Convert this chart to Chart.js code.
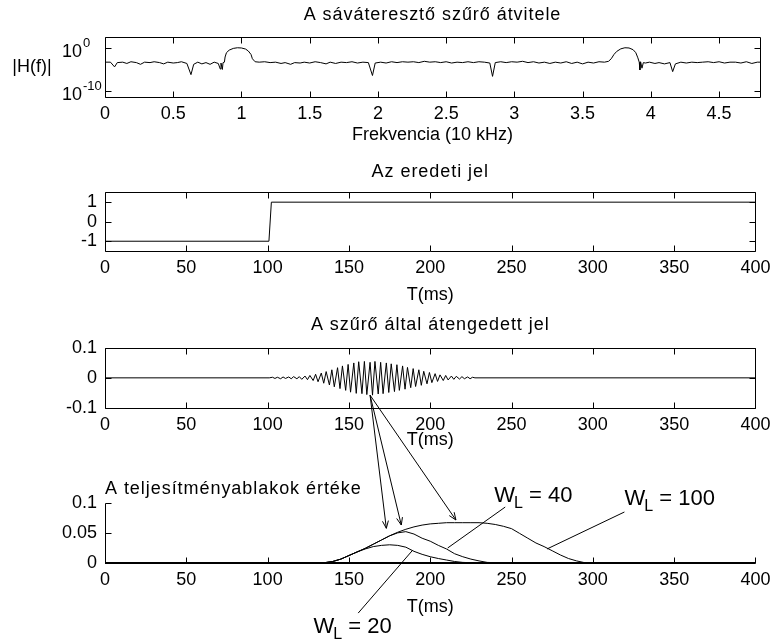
<!DOCTYPE html>
<html>
<head>
<meta charset="utf-8">
<script src="https://cdn.jsdelivr.net/npm/chart.js@4/dist/chart.umd.min.js"></script>
<style>
  html, body { margin: 0; padding: 0; background: #fff; }
  #wrap { position: relative; width: 777px; height: 641px; overflow: hidden; background: #fff; }
  #wrap canvas { position: absolute; left: 0; }
</style>
</head>
<body>
<div id="wrap">
  <canvas id="c1" width="777" height="150" style="top:0px"></canvas>
  <canvas id="c2" width="777" height="160" style="top:150px"></canvas>
  <canvas id="c3" width="777" height="150" style="top:305px"></canvas>
  <canvas id="c4" width="777" height="261" style="top:380px"></canvas>
</div>
<script>
  // --- panel 1: filter response, frequency in 10 kHz, log10 |H(f)|
  var freq = [0, 0.04, 0.07, 0.09, 0.13, 0.16, 0.19, 0.23, 0.26, 0.29, 0.33, 0.36, 0.40, 0.43, 0.46, 0.50,
    0.53, 0.56, 0.60, 0.63, 0.65, 0.68, 0.71, 0.74, 0.77, 0.80, 0.83, 0.845, 0.85, 0.86, 0.865, 0.875,
    0.88, 0.89, 0.91, 0.94, 0.97, 1.00, 1.03, 1.05, 1.07, 1.08, 1.10, 1.13, 1.17, 1.21, 1.25, 1.29,
    1.32, 1.36, 1.39, 1.43, 1.46, 1.50, 1.54, 1.58, 1.62, 1.65, 1.69, 1.73, 1.77, 1.81, 1.85, 1.89,
    1.93, 1.96, 1.98, 2.02, 2.06, 2.10, 2.14, 2.18, 2.22, 2.26, 2.30, 2.34, 2.38, 2.42, 2.46, 2.50,
    2.54, 2.58, 2.62, 2.66, 2.70, 2.74, 2.78, 2.82, 2.84, 2.86, 2.90, 2.94, 2.98, 3.02, 3.06, 3.10,
    3.14, 3.18, 3.22, 3.26, 3.30, 3.34, 3.38, 3.42, 3.46, 3.50, 3.54, 3.58, 3.62, 3.66, 3.69, 3.71,
    3.73, 3.75, 3.78, 3.81, 3.84, 3.87, 3.89, 3.905, 3.915, 3.92, 3.925, 3.935, 3.945, 3.96, 3.99, 4.03,
    4.06, 4.10, 4.14, 4.16, 4.18, 4.22, 4.26, 4.30, 4.34, 4.38, 4.42, 4.46, 4.50, 4.54, 4.58, 4.62,
    4.66, 4.70, 4.74, 4.78, 4.80];
  var hLog = [-3.4, -3.4, -4.5, -3.5, -3.4, -3.7, -3.3, -3.5, -3.9, -3.4, -3.5, -3.3, -3.5, -3.8, -3.4, -3.6,
    -3.5, -3.3, -3.7, -6.3, -3.9, -3.4, -3.8, -3.5, -3.9, -3.4, -3.7, -5.0, -3.6, -5.1, -3.5, -3.4,
    -2.2, -1.2, -0.6, -0.2, -0.05, -0.1, -0.35, -0.8, -1.6, -2.6, -3.3, -3.4, -3.3, -3.5, -3.4, -3.7,
    -3.5, -3.9, -3.5, -3.6, -3.4, -3.6, -3.3, -3.5, -3.8, -3.4, -3.7, -3.4, -3.5, -3.3, -3.6, -3.4,
    -3.5, -6.5, -3.6, -3.4, -3.6, -3.3, -3.5, -3.3, -3.4, -3.3, -3.5, -3.2, -3.4, -3.3, -3.5, -3.3,
    -3.6, -3.4, -3.5, -3.3, -3.5, -3.3, -3.4, -3.6, -6.7, -3.5, -3.3, -3.5, -3.3, -3.4, -3.2, -3.5,
    -3.3, -3.6, -3.4, -3.7, -3.4, -3.6, -3.3, -3.7, -3.4, -3.8, -3.4, -3.6, -3.3, -3.4, -3.2, -2.6,
    -1.6, -0.9, -0.3, -0.05, -0.1, -0.5, -1.2, -2.4, -3.4, -5.2, -3.3, -4.8, -3.5, -3.6, -3.4, -3.7,
    -3.5, -3.8, -3.5, -5.6, -3.8, -3.4, -3.6, -3.4, -3.5, -3.4, -3.3, -3.5, -3.3, -3.6, -3.4, -3.4,
    -3.6, -3.3, -3.7, -3.4, -3.4];
  var freqTicks = [0, 0.5, 1, 1.5, 2, 2.5, 3, 3.5, 4, 4.5];
  var hTicks = [1e-10, 1];
  var hTickExp = ['-10', '0'];

  // --- panel 2: original signal
  var tStep = [0, 100.8, 102.3, 400];
  var xStep = [-1, -1, 1, 1];
  var stepTicks = [-1, 0, 1];

  // --- panel 3: signal passed by the filter (extremes of the burst as drawn)
  var tFilt = [0, 101, 103, 104.5, 106, 108, 109.5, 111, 113, 114.5,
    116, 118, 119.5, 121, 123, 124.5, 126, 128, 129.5, 131,
    133, 134.5, 136, 138, 139.5, 141, 143, 144.5, 146, 148,
    149.5, 151, 153, 154.5, 156, 158, 159.5, 161, 163, 164.5,
    166, 168, 169.5, 171, 173, 174.5, 176, 178, 179.5, 181,
    183, 184.5, 186, 188, 189.5, 191, 193, 194.5, 196, 198,
    199.5, 201, 203, 204.5, 206, 208, 209.5, 211, 213, 214.5,
    216, 218, 219.5, 221, 223, 224.5, 226, 227.5, 400];
  var yFilt = [0, 0, 0.002, -0.002, 0.002, -0.003, 0.003, -0.002, 0.003, -0.003,
    0.004, -0.003, 0.004, -0.005, 0.006, -0.006, 0.008, -0.009, 0.012, -0.013,
    0.016, -0.018, 0.021, -0.024, 0.027, -0.03, 0.034, -0.036, 0.04, -0.042,
    0.045, -0.048, 0.05, -0.052, 0.054, -0.053, 0.055, -0.056, 0.052, -0.058,
    0.055, -0.054, 0.052, -0.053, 0.05, -0.049, 0.047, -0.046, 0.044, -0.042,
    0.04, -0.038, 0.035, -0.033, 0.031, -0.029, 0.027, -0.025, 0.022, -0.02,
    0.018, -0.016, 0.014, -0.012, 0.01, -0.009, 0.008, -0.007, 0.006, -0.005,
    0.005, -0.004, 0.004, -0.003, 0.003, -0.003, 0.002, 0, 0];
  var filtTicks = [-0.1, 0, 0.1];

  // --- panel 4: power window values
  var tWin = [0, 135, 140, 145, 150, 155, 160, 165, 170, 175, 180, 185, 190, 195, 200, 205, 210, 215,
    220, 225, 230, 235, 240, 245, 250, 255, 260, 265, 270, 275, 280, 285, 290, 295, 400];
  var w20 = [0, 0, 0.002, 0.006, 0.012, 0.018, 0.023, 0.027, 0.029, 0.030, 0.029, 0.026, 0.019, 0.014,
    0.010, 0.007, 0.0045, 0.002, 0.0005, 0, 0, 0, 0, 0, 0, 0, 0, 0, 0, 0, 0, 0, 0, 0, 0];
  var w40 = [0, 0, 0.002, 0.006, 0.012, 0.018, 0.024, 0.031, 0.038, 0.045, 0.050, 0.052, 0.048, 0.041,
    0.036, 0.029, 0.023, 0.015, 0.010, 0.006, 0.003, 0.0005, 0, 0, 0, 0, 0, 0, 0, 0, 0, 0, 0, 0, 0];
  var w100 = [0, 0, 0.002, 0.006, 0.012, 0.018, 0.024, 0.031, 0.038, 0.045, 0.051, 0.056, 0.060, 0.063,
    0.065, 0.066, 0.067, 0.067, 0.067, 0.067, 0.067, 0.066, 0.064, 0.061, 0.057, 0.049, 0.041, 0.033,
    0.027, 0.020, 0.013, 0.007, 0.003, 0, 0];
  var winTicks = [0, 0.05, 0.1];
  var timeTicks = [0, 50, 100, 150, 200, 250, 300, 350, 400];

  // annotations (data coordinates)
  var arrowFrom = {t: 163, v: -0.058};               // on panel 3
  var arrowTips = [[173, 0.0576], [182.2, 0.0631], [215.8, 0.0715]];  // on panel 4
  var wLabels = [
    {num: '20', t: 128.2, v: -0.1183, from: [155.7, -0.0844], to: [189.3, 0.0213]},
    {num: '40', t: 239.4, v: 0.1017, from: [246.1, 0.0932], to: [210.7, 0.0246]},
    {num: '100', t: 319.5, v: 0.0966, from: [319.4, 0.0849], to: [271.8, 0.023]}
  ];

  var FONT = '"Liberation Sans", Arial, Helvetica, sans-serif';
  Chart.defaults.font.family = FONT;
  Chart.defaults.font.size = 18;
  Chart.defaults.color = '#000';
  Chart.defaults.animation = false;
  Chart.defaults.events = [];

  function pts(xs, ys, f) {
    return xs.map(function (x, i) { return {x: x, y: f ? f(ys[i]) : ys[i]}; });
  }
  function fixedTicks(list) {
    return function (s) { s.ticks = list.map(function (v) { return {value: v}; }); };
  }
  function line(data) {
    return {data: data, showLine: true, borderColor: '#000', borderWidth: 1, pointRadius: 0, tension: 0, fill: false};
  }
  function xAxis(min, max, ticks, h, label, labelPad) {
    return {
      type: 'linear', min: min, max: max,
      afterBuildTicks: fixedTicks(ticks),
      afterFit: function (s) { s.height = h; },
      grid: {display: false, drawTicks: false},
      border: {display: false},
      ticks: {padding: 6.5, maxRotation: 0, autoSkip: false, callback: function (v) { return String(v); }},
      title: {display: true, text: label, padding: {top: 0, bottom: labelPad}}
    };
  }
  function yAxis(type, min, max, ticks, show) {
    return {
      type: type, min: min, max: max,
      afterBuildTicks: fixedTicks(ticks),
      afterFit: function (s) { s.width = 105; },
      grid: {display: false, drawTicks: false},
      border: {display: false},
      ticks: {display: show, padding: 8, autoSkip: false, callback: function (v) { return String(v); }}
    };
  }
  // titles sit over the plot box, not over the whole canvas
  function title(text, top, bottom, align) {
    return {display: true, text: text, align: align || 'center', fullSize: false,
      font: {size: 18, weight: 'normal'}, padding: {top: top, bottom: bottom}};
  }
  // the old figure's titles are set a little looser than the canvas font
  function looseTitle(chart) {
    var block = chart.titleBlock, draw = block.draw;
    block.draw = function () {
      chart.ctx.letterSpacing = '0.95px';
      draw.apply(block, arguments);
      chart.ctx.letterSpacing = '0px';
    };
    chart.draw();
  }

  // box and inward tick marks, MATLAB style
  var matlabAxes = {
    id: 'matlabAxes',
    afterDatasetsDraw: function (chart, args, opts) {
      var ctx = chart.ctx, a = chart.chartArea, xs = chart.scales.x, ys = chart.scales.y, len = 6;
      var L = Math.round(a.left) + 0.5, R = Math.round(a.right) + 0.5;
      var T = Math.round(a.top) + 0.5, B = Math.round(a.bottom) + 0.5;
      ctx.save();
      ctx.strokeStyle = '#000';
      ctx.lineWidth = 1;
      ctx.beginPath();
      if (opts.box) {
        ctx.rect(L, T, R - L, B - T);
      } else {
        ctx.moveTo(L, T); ctx.lineTo(L, B);
      }
      xs.ticks.forEach(function (t) {
        var x = Math.round(xs.getPixelForValue(t.value)) + 0.5;
        ctx.moveTo(x, B); ctx.lineTo(x, B - len);
        if (opts.box) { ctx.moveTo(x, T); ctx.lineTo(x, T + len); }
      });
      ys.ticks.forEach(function (t) {
        var y = Math.round(ys.getPixelForValue(t.value)) + 0.5;
        ctx.moveTo(L, y); ctx.lineTo(L + len, y);
        if (opts.box) { ctx.moveTo(R, y); ctx.lineTo(R - len, y); }
      });
      ctx.stroke();
      if (!opts.box) {
        // curves lying on zero thicken the bottom axis
        ctx.lineWidth = 2;
        ctx.beginPath();
        ctx.moveTo(L - 0.5, B - 0.5); ctx.lineTo(R, B - 0.5);
        ctx.stroke();
      }
      ctx.restore();
    }
  };

  // 10^n labels and the horizontal |H(f)| label of panel 1
  var logLabels = {
    id: 'logLabels',
    afterDraw: function (chart) {
      var ctx = chart.ctx, ys = chart.scales.y, a = chart.chartArea;
      ctx.save();
      ctx.fillStyle = '#000';
      ctx.textBaseline = 'middle';
      hTicks.forEach(function (v, i) {
        var y = ys.getPixelForValue(v);
        ctx.font = '18px ' + FONT;
        ctx.textAlign = 'right';
        ctx.fillText('10', 82, y + 4);
        ctx.font = '13px ' + FONT;
        ctx.textAlign = 'left';
        ctx.fillText(hTickExp[i], 83, y - 4);
      });
      ctx.font = '18px ' + FONT;
      ctx.textAlign = 'center';
      ctx.fillText('|H(f)|', 32, (a.top + a.bottom) / 2);
      ctx.restore();
    }
  };

  var chart1 = new Chart('c1', {
    type: 'scatter',
    data: {datasets: [line(pts(freq, hLog, function (e) { return Math.pow(10, e); }))]},
    options: {
      responsive: false,
      layout: {padding: {left: 0, right: 17, top: 0, bottom: 0}},
      plugins: {legend: {display: false}, tooltip: {enabled: false},
        title: title('A sáváteresztő szűrő átvitele', 4, 11.2), matlabAxes: {box: true}},
      scales: {
        x: xAxis(0, 4.8, freqTicks, 53, 'Frekvencia (10 kHz)', 4.2),
        y: yAxis('logarithmic', Math.pow(10, -11.5), Math.pow(10, 2.5), hTicks, false)
      }
    },
    plugins: [matlabAxes, logLabels]
  });

  var chart2 = new Chart('c2', {
    type: 'scatter',
    data: {datasets: [line(pts(tStep, xStep))]},
    options: {
      responsive: false,
      layout: {padding: {left: 0, right: 17, top: 0, bottom: 0}},
      plugins: {legend: {display: false}, tooltip: {enabled: false},
        title: title('Az eredeti jel', 11.2, 9.6), matlabAxes: {box: true}},
      scales: {
        x: xAxis(0, 400, timeTicks, 59, 'T(ms)', 4.2),
        y: yAxis('linear', -1.5, 1.5, stepTicks, true)
      }
    },
    plugins: [matlabAxes]
  });

  var chart3 = new Chart('c3', {
    type: 'scatter',
    data: {datasets: [line(pts(tFilt, yFilt))]},
    options: {
      responsive: false,
      layout: {padding: {left: 0, right: 17, top: 0, bottom: 0}},
      plugins: {legend: {display: false}, tooltip: {enabled: false},
        title: title('A szűrő által átengedett jel', 9.2, 12.2), matlabAxes: {box: true}},
      scales: {
        x: xAxis(0, 400, timeTicks, 47.3, 'T(ms)', 4.2),
        y: yAxis('linear', -0.1, 0.1, filtTicks, true)
      }
    },
    plugins: [matlabAxes]
  });

  function arrowTo(ctx, x0, y0, x1, y1) {
    var a = Math.atan2(y1 - y0, x1 - x0), L = 8, s = 0.38;
    ctx.moveTo(x0, y0); ctx.lineTo(x1, y1);
    ctx.moveTo(x1 - L * Math.cos(a - s), y1 - L * Math.sin(a - s));
    ctx.lineTo(x1, y1);
    ctx.lineTo(x1 - L * Math.cos(a + s), y1 - L * Math.sin(a + s));
  }

  var notes = {
    id: 'notes',
    afterDraw: function (chart) {
      var ctx = chart.ctx, xs = chart.scales.x, ys = chart.scales.y;
      var dy = chart3.canvas.offsetTop - chart.canvas.offsetTop;
      var x0 = chart3.scales.x.getPixelForValue(arrowFrom.t);
      var y0 = chart3.scales.y.getPixelForValue(arrowFrom.v) + dy;
      ctx.save();
      ctx.strokeStyle = '#000';
      ctx.fillStyle = '#000';
      ctx.lineWidth = 1;
      ctx.beginPath();
      arrowTips.forEach(function (p) {
        arrowTo(ctx, x0, y0, xs.getPixelForValue(p[0]), ys.getPixelForValue(p[1]));
      });
      wLabels.forEach(function (w) {
        ctx.moveTo(xs.getPixelForValue(w.from[0]), ys.getPixelForValue(w.from[1]));
        ctx.lineTo(xs.getPixelForValue(w.to[0]), ys.getPixelForValue(w.to[1]));
      });
      ctx.stroke();
      ctx.textBaseline = 'alphabetic';
      ctx.textAlign = 'left';
      wLabels.forEach(function (w) {
        var x = xs.getPixelForValue(w.t), y = ys.getPixelForValue(w.v);
        ctx.font = '22px ' + FONT;
        ctx.fillText('W', x, y);
        x += ctx.measureText('W').width - 1;
        ctx.font = '16px ' + FONT;
        ctx.fillText('L', x, y + 6);
        x += ctx.measureText('L').width;
        ctx.font = '22px ' + FONT;
        ctx.fillText(' = ' + w.num, x, y);
      });
      ctx.restore();
    }
  };

  var chart4 = new Chart('c4', {
    type: 'scatter',
    data: {datasets: [line(pts(tWin, w20)), line(pts(tWin, w40)), line(pts(tWin, w100))]},
    options: {
      responsive: false,
      layout: {padding: {left: 0, right: 17, top: 0, bottom: 0}},
      plugins: {legend: {display: false}, tooltip: {enabled: false},
        title: title('A teljesítményablakok értéke', 98.2, 3.2, 'start'), matlabAxes: {box: false}},
      scales: {
        x: xAxis(0, 400, timeTicks, 78.3, 'T(ms)', 23.2),
        y: yAxis('linear', 0, 0.1, winTicks, true)
      }
    },
    plugins: [matlabAxes, notes]
  });

  [chart1, chart2, chart3, chart4].forEach(looseTitle);
</script>
</body>
</html>
